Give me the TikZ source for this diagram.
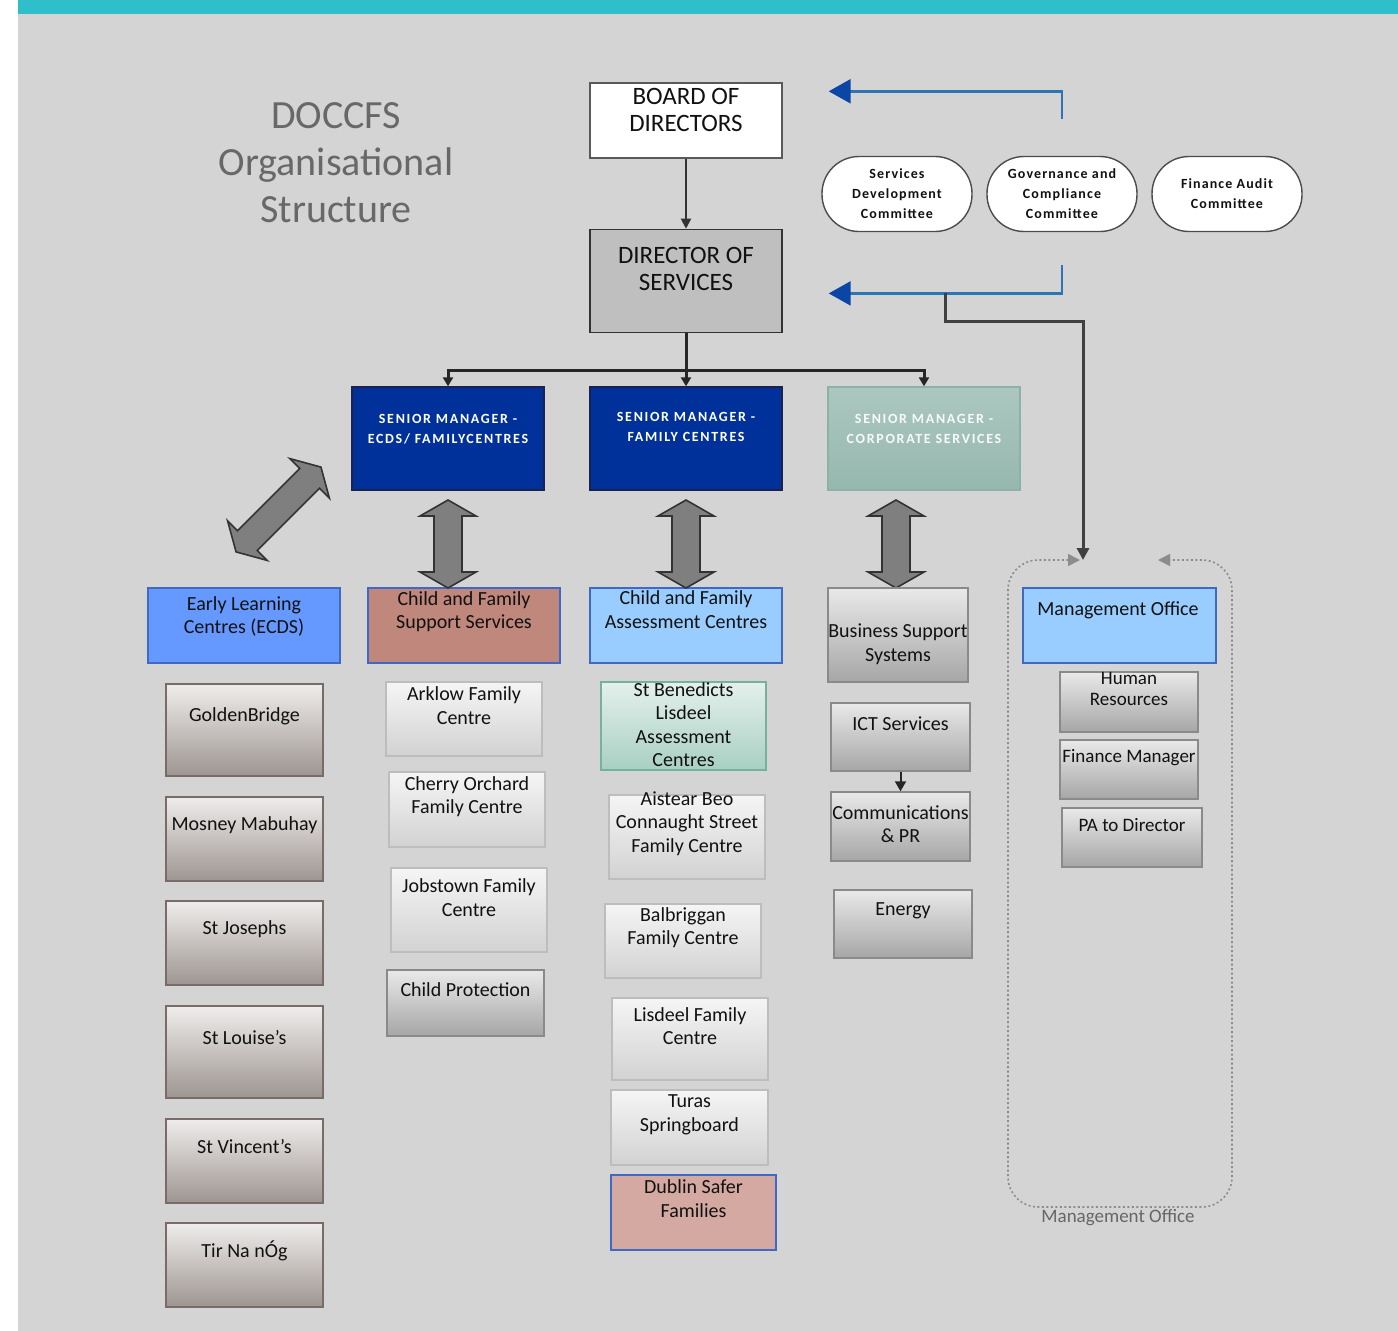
\documentclass[tikz,border=0pt]{standalone}
\usepackage{fontspec}
\setmainfont{Carlito}
\usetikzlibrary{arrows.meta}
\usetikzlibrary{calc}
\usetikzlibrary{positioning}

\definecolor{bggrey}{HTML}{D4D4D4}
\definecolor{topbar}{HTML}{2FBFCB}
\definecolor{titlegrey}{HTML}{686868}
\definecolor{txtblack}{HTML}{111111}
\definecolor{smblue}{HTML}{00319A}
\definecolor{smline}{HTML}{1A2250}
\definecolor{corptop}{HTML}{ABC7C0}
\definecolor{corpbot}{HTML}{96B8AF}
\definecolor{corpline}{HTML}{8CB2A8}
\definecolor{ecdsfill}{HTML}{6699FF}
\definecolor{supfill}{HTML}{C0877C}
\definecolor{paleblue}{HTML}{99CCFF}
\definecolor{pinkfill}{HTML}{D4A9A2}
\definecolor{blueline}{HTML}{3F69C2}
\definecolor{browntop}{HTML}{EFEDEC}
\definecolor{brownbot}{HTML}{9D9591}
\definecolor{brownline}{HTML}{776C68}
\definecolor{lighttop}{HTML}{F5F5F5}
\definecolor{lightbot}{HTML}{D2D2D2}
\definecolor{lightline}{HTML}{BDBDBD}
\definecolor{greytop}{HTML}{E9E9E9}
\definecolor{greybot}{HTML}{A6A6A6}
\definecolor{greyline}{HTML}{8A8A8A}
\definecolor{greentop}{HTML}{E4F0EC}
\definecolor{greenbot}{HTML}{A8CFC3}
\definecolor{greenline}{HTML}{74B29E}
\definecolor{linkblue}{HTML}{2E75B6}
\definecolor{headblue}{HTML}{0B45A6}
\definecolor{arrowgrey}{HTML}{7F7F7F}
\definecolor{dotgrey}{HTML}{8C8C8C}

\tikzstyle{box}=[draw, inner sep=0pt, line width=1.4pt]
\tikzstyle{boxtext}=[align=center, inner sep=0pt, text=txtblack, font=\fontsize{20}{23.5}\selectfont]
\tikzstyle{smalltext}=[boxtext, font=\fontsize{19}{21.5}\selectfont]
\tikzstyle{toptext}=[boxtext, font=\fontsize{25}{27}\selectfont]
\tikzstyle{smtext}=[align=center, inner sep=0pt, text=white, font={\fontsize{14}{20}\selectfont\bfseries\addfontfeature{LetterSpace=12}}]
\tikzstyle{brownkid}=[box, draw=brownline, top color=browntop, bottom color=brownbot]
\tikzstyle{lightkid}=[box, draw=lightline, top color=lighttop, bottom color=lightbot]
\tikzstyle{greykid}=[box, draw=greyline, top color=greytop, bottom color=greybot]
\tikzstyle{greenkid}=[box, draw=greenline, top color=greentop, bottom color=greenbot]
\tikzstyle{committee}=[draw=black!70, fill=white, line width=1.4pt, rounded corners=37pt, minimum width=150pt, minimum height=75pt, inner sep=0pt, align=center, text=txtblack, font={\fontsize{14}{20}\selectfont\bfseries\addfontfeature{LetterSpace=8}}]
\tikzstyle{tree}=[draw=black!85, line width=3pt]
\tikzstyle{bluelink}=[draw=linkblue, line width=2.5pt, -{Triangle[length=22pt,width=24pt,color=headblue]}]
\tikzstyle{blockarrow}=[draw=black!80, fill=arrowgrey, line width=1.6pt, line join=miter]

\newcommand{\dblarrow}[3]{%
  \begin{scope}[shift={#1}, rotate=#2]
    \draw[blockarrow] (-#3,0) -- (-#3+16,-28) -- (-#3+16,-14) -- (#3-16,-14) -- (#3-16,-28)
      -- (#3,0) -- (#3-16,28) -- (#3-16,14) -- (-#3+16,14) -- (-#3+16,28) -- cycle;
  \end{scope}}

\begin{document}
\begin{tikzpicture}[x=1pt, y=-1pt]
\useasboundingbox (0,0) rectangle (1398,1331);
\fill[white] (0,0) rectangle (1398,1331);
\fill[bggrey] (18,14) rectangle (1398,1331);
\fill[topbar] (18,0) rectangle (1398,14);

%title
\node[align=center, text=titlegrey, font=\fontsize{40}{47}\selectfont] (title) at (336,163) {DOCCFS\\Organisational\\Structure};

%top
\node[box, draw=black!65, fill=white, minimum width=192, minimum height=75] (board) at (686,120.5) {};
\node[toptext] at (686,110) {BOARD OF\\DIRECTORS};
\node[box, draw=black!80, fill=black!25, minimum width=192, minimum height=103, below=70pt of board] (dir) {};
\node[toptext] at (686,268.5) {DIRECTOR OF\\SERVICES};
\draw[draw=black!80, line width=2pt, -{Triangle[length=10pt,width=10pt]}] (board) -- (dir);

%committees
\foreach \pos/\name/\txt in {{(897,194)/sdc/{Services\\Development\\Committee}}, {(1062,194)/gov/{Governance and\\Compliance\\Committee}}, {(1227,194)/fac/{Finance Audit\\Committee}}}
    \node[committee] (\name) at \pos {\txt};

\coordinate (govup) at ($(gov.north)+(0,-37)$);
\coordinate (boardin) at ($(board.north east)+(46,9)$);
\coordinate (govdown) at ($(gov.south)+(0,33)$);
\coordinate (dirin) at ($(dir.east)+(46,12.5)$);
\draw[bluelink] (govup) |- (boardin);
\draw[bluelink] (govdown) |- (dirin);

%senior managers
\node[box, draw=smline, fill=smblue, minimum width=192, minimum height=103] (sm1) at (448,438.5) {};
\node[box, draw=smline, fill=smblue, minimum width=192, minimum height=103] (sm2) at (686,438.5) {};
\node[box, draw=corpline, top color=corptop, bottom color=corpbot, minimum width=192, minimum height=103] (sm3) at (924,438.5) {};
\node[smtext] at (448,429) {SENIOR MANAGER -\\ECDS/ FAMILYCENTRES};
\node[smtext] at (686,427) {SENIOR MANAGER -\\FAMILY CENTRES};
\node[smtext, text=white!92!corptop] at (924,429) {SENIOR MANAGER -\\CORPORATE SERVICES};

\draw[tree] (dir.south) -- ++(0,37) coordinate (split);
\foreach \n in {sm1,sm2,sm3}
    \draw[tree, -{Triangle[length=9pt,width=10pt]}] (split) -| (\n.north);

%services
\node[box, draw=blueline, fill=ecdsfill, minimum width=192, minimum height=75] (ecds) at (244,625.5) {};
\node[box, draw=blueline, fill=supfill, minimum width=192, minimum height=75] (cfss) at (464,625.5) {};
\node[box, draw=blueline, fill=paleblue, minimum width=192, minimum height=75] (cfac) at (686,625.5) {};
\node[box, draw=blueline, fill=paleblue, minimum width=193, minimum height=75] (mo) at (1119.5,625.5) {};
\node[boxtext] at (244,616.5) {Early Learning\\Centres (ECDS)};
\node[boxtext] at (464,611.5) {Child and Family\\Support Services};
\node[boxtext] at (686,609.5) {Child and Family\\Assessment Centres};
\node[boxtext] at (1118,610) {Management Office};

\dblarrow{(278.5,509.5)}{45}{60}
\dblarrow{(448,544)}{90}{44}
\dblarrow{(686,544)}{90}{44}
\dblarrow{(896,544)}{90}{44}

%early learning centres
\foreach \name/\xa/\ya/\xb/\yb/\ty/\txt in {gold/166/684/323/776/716/GoldenBridge, mosney/166/797/323/881/825/Mosney Mabuhay, josephs/166/901/323/985/929/St Josephs, louise/166/1006/323/1098/1038/St Louise{\char39}s, vincent/166/1119/323/1203/1147/St Vincent{\char39}s, tir/166/1223/323/1307/1251/Tir Na nÓg}{
    \node[brownkid, minimum width=\xb-\xa, minimum height=\yb-\ya] (\name) at ({(\xa+\xb)/2},{(\ya+\yb)/2}) {};
    \node[boxtext] at ({(\xa+\xb)/2},\ty) {\txt};
}

%family centres
\foreach \name/\xa/\ya/\xb/\yb/\ty/\txt in {arklow/386/682/542/756/705.5/{Arklow Family\\Centre}, cherry/389/772/545/847/796.5/{Cherry Orchard\\Family Centre}, jobs/391/868/547/952/897.5/{Jobstown Family\\Centre}, aistear/609/795/765/879/823.5/{Aistear Beo\\Connaught Street\\Family Centre}, balb/605/904/761/978/927.5/{Balbriggan\\Family Centre}, lisdeel/612/998/768/1080/1026/{Lisdeel Family\\Centre}, turas/611/1090/768/1165/1115/{Turas\\Springboard}}{
    \node[lightkid, minimum width=\xb-\xa, minimum height=\yb-\ya] (\name) at ({(\xa+\xb)/2},{(\ya+\yb)/2}) {};
    \node[boxtext] at ({(\xa+\xb)/2},\ty) {\txt};
}
\node[greenkid, minimum width=165, minimum height=88] (bened) at (683.5,726) {};
\node[boxtext] at (683.5,724.5) {St Benedicts\\Lisdeel\\Assessment\\Centres};
\node[box, draw=blueline, fill=pinkfill, minimum width=165, minimum height=75] (dublin) at (693.5,1212.5) {};
\node[boxtext] at (693.5,1198.5) {Dublin Safer\\Families};

%corporate
\foreach \name/\xa/\ya/\xb/\yb/\ty/\txt in {cprot/387/970/544/1036/990/Child Protection, bss/828/588/968/682/644/{Business Support\\Systems}, ict/831/703/970/771/724/ICT Services, comms/831/792/970/861/824/{Communications\\\& PR}, energy/834/890/972/958/911/Energy}{
    \node[greykid, minimum width=\xb-\xa, minimum height=\yb-\ya] (\name) at ({(\xa+\xb)/2},{(\ya+\yb)/2}) {};
    \node[boxtext] at ({(\xa+\xb)/2},\ty) {\txt};
}
\draw[draw=black!85, line width=2pt, -{Triangle[length=10pt,width=11pt]}] (ict) -- (comms);

%management office
\foreach \name/\xa/\ya/\xb/\yb/\ty/\txt in {hr/1060/672/1198/732/689/{Human\\Resources}, finman/1060/740/1198/799/758/Finance Manager, pa/1062/808/1202/867/825/PA to Director}{
    \node[greykid, minimum width=\xb-\xa, minimum height=\yb-\ya] (\name) at ({(\xa+\xb)/2},{(\ya+\yb)/2}) {};
    \node[smalltext] at ({(\xa+\xb)/2},\ty) {\txt};
}

\coordinate (tap) at ($(dirin)+(117,0)$);
\coordinate (moin) at (1083,560);
\draw[draw=black!75, line width=3pt, -{Triangle[length=12pt,width=12pt]}] (tap) -- ++(0,28) -| (moin);
\draw[draw=dotgrey, line width=1.6pt, dash pattern=on 2pt off 2.5pt, rounded corners=30pt,
      {Triangle[length=12pt,width=12pt,fill=dotgrey]}-{Triangle[length=12pt,width=12pt,fill=dotgrey]}]
      (1080,560) -- (1008,560) -- (1008,1207) -- (1232,1207) -- (1232,560) -- (1158,560);
\node[text=black!60, font=\fontsize{19}{21}\selectfont] (mocap) at (1118,1218) {Management Office};

\end{tikzpicture}
\end{document}
